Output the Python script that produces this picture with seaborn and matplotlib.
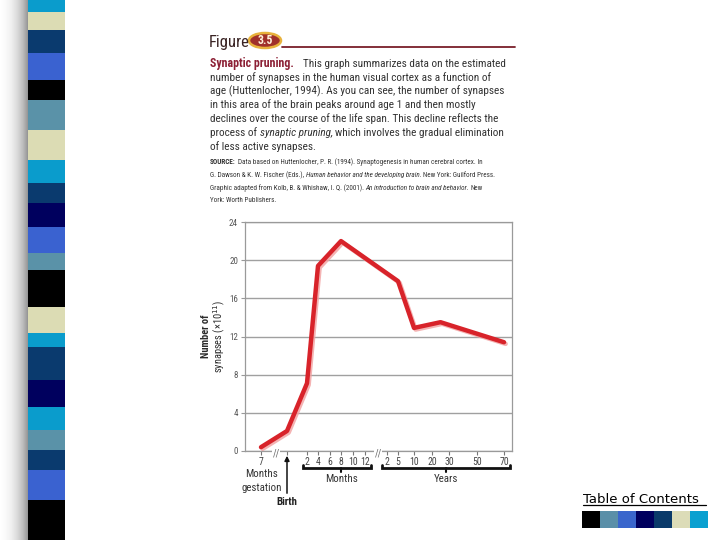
import numpy as np
import pandas as pd
import seaborn as sns
from matplotlib import pyplot as plt
from matplotlib.patches import Ellipse, Rectangle, FancyArrowPatch
from matplotlib.lines import Line2D
import matplotlib.patheffects as pe

# data: age in months relative to birth (gestation is negative)
ages_months = [-2, 0, 2, 4, 8, 60, 120, 300, 840]
synapses = [0.4, 2.1, 7.1, 19.4, 22.0, 17.8, 12.9, 13.5, 11.4]

month_ticks = [2, 4, 6, 8, 10, 12]
year_ticks = [2, 5, 10, 20, 30, 50, 70]
y_ticks = [0, 4, 8, 12, 16, 20, 24]

# slide decoration
stripe_colors = ["#0a9ccc", "#dcdcb4", "#0a3a6e", "#3a62d0", "#000000", "#5a92a8",
                 "#dcdcb4", "#0a9ccc", "#0a3a6e", "#00005e", "#3a62d0", "#5a92a8",
                 "#000000", "#dcdcb4", "#0a9ccc", "#0a3a6e", "#00005e", "#0a9ccc",
                 "#5a92a8", "#0a3a6e", "#3a62d0", "#000000"]
stripe_heights = [12, 18, 23, 27, 20, 30, 30, 23, 20, 24, 26, 17, 37, 26, 14, 33,
                  27, 23, 20, 20, 30, 40]
toc_colors = ["#000000", "#5a8fa8", "#3a66cc", "#00005e", "#0a3a6a", "#dcdcb8", "#0aa0d0"]

W, H = 720, 540
NARROW = ["Roboto Condensed", "DejaVu Sans"]
TXT = "#333333"

sns.set_theme(style="white")
plt.rcParams["font.family"] = NARROW

fig = plt.figure(figsize=(7.2, 5.4), dpi=100)
fig.patch.set_facecolor("white")
renderer = fig.canvas.get_renderer()


def fx(x):
    return x / W


def fy(y):
    return 1 - y / H


def ftext(x, y, s, **kw):
    return fig.text(fx(x), fy(y), s, **kw)


def fline(xs, ys, **kw):
    fig.add_artist(Line2D([fx(v) for v in xs], [fy(v) for v in ys],
                          transform=fig.transFigure, **kw))


def fit_size(s, width, base=8.0):
    # font size that makes a line as wide as in the reference
    t = fig.text(0, 0, s, fontsize=base)
    w = t.get_window_extent(renderer).width
    t.remove()
    return base * width / w


def runs(x, y, parts, size, gap):
    # one line made of differently styled pieces
    for txt, style in parts:
        kw = dict(fontsize=size, va="baseline", color=TXT)
        kw.update(style)
        t = ftext(x, y, txt, **kw)
        x = t.get_window_extent(renderer).x1 + gap


# ---- left stripe with its shadow
shadow = fig.add_axes([0, 0, fx(29), 1])
grad = np.linspace(0, 1, 60) ** 1.5
shadow.imshow(np.vstack([grad] * 2), cmap="Greys", vmin=0, vmax=1.8,
              aspect="auto", extent=[0, 1, 0, 1])
shadow.set_axis_off()

stripe = fig.add_axes([fx(28), 0, fx(37), 1])
bottoms = H - np.cumsum(stripe_heights)
stripe.bar([0] * len(stripe_heights), stripe_heights, bottom=bottoms,
           color=stripe_colors, width=1.0, linewidth=0)
stripe.set_xlim(-0.5, 0.5)
stripe.set_ylim(0, H)
stripe.set_axis_off()

# ---- figure header
ftext(209, 47, "Figure", fontsize=12, color="#3a2424", va="baseline")
fig.add_artist(Ellipse((fx(265), fy(40.5)), fx(32), 15 / H, transform=fig.transFigure,
                       facecolor="#a0302a", edgecolor="#e8b23c", lw=1.8))
ftext(265, 41, "3.5", fontsize=8.5, color="#fff2dc", weight="bold",
      ha="center", va="center")
fline([282, 515], [47, 47], color="#7a1f2a", lw=1.3)

maroon = "#8c2035"
cap_size = fit_size("number of synapses in the human visual cortex as a function of", 281)
runs(210, 67, [("Synaptic pruning.", {"color": maroon, "weight": "bold", "fontsize": cap_size * 1.06}),
               ("This graph summarizes data on the estimated", {})], cap_size, 9)
caption = [
    "number of synapses in the human visual cortex as a function of",
    "age (Huttenlocher, 1994). As you can see, the number of synapses",
    "in this area of the brain peaks around age 1 and then mostly",
    "declines over the course of the life span. This decline reflects the",
]
for i, line in enumerate(caption):
    ftext(210, 81 + 13.7 * i, line, fontsize=cap_size, color=TXT, va="baseline")
runs(210, 136, [("process of", {}), ("synaptic pruning,", {"style": "italic"}),
                ("which involves the gradual elimination", {})], cap_size, 2.5)
ftext(210, 150, "of less active synapses.", fontsize=cap_size, color=TXT, va="baseline")

src_size = fit_size("G. Dawson & K. W. Fischer (Eds.), Human behavior and the developing "
                    "brain. New York: Guilford Press.", 288, base=5.5)
runs(210, 164, [("SOURCE:", {"weight": "bold"}),
                ("Data based on Huttenlocher, P. R. (1994). Synaptogenesis in human "
                 "cerebral cortex. In", {})], src_size, 2)
runs(210, 177, [("G. Dawson & K. W. Fischer (Eds.),", {}),
                ("Human behavior and the developing brain.", {"style": "italic"}),
                ("New York: Guilford Press.", {})], src_size, 1.5)
runs(210, 190, [("Graphic adapted from Kolb, B. & Whishaw, I. Q. (2001).", {}),
                ("An introduction to brain and behavior.", {"style": "italic"}),
                ("New", {})], src_size, 1.5)
ftext(210, 202, "York: Worth Publishers.", fontsize=src_size, color=TXT, va="baseline")

# ---- the chart, on a piecewise x scale (ages in months)
scale_ages = [-3.25, -2, 0, 2, 4, 6, 8, 10, 12, 24, 60, 120, 240, 360, 600, 840, 885]
scale_px = [245, 261, 287, 307, 318, 330, 341, 353, 365, 387, 398, 414, 432, 449, 477, 504, 512]


def fwd(a):
    return np.interp(a, scale_ages, scale_px)


def inv(p):
    return np.interp(p, scale_px, scale_ages)


ax = fig.add_axes([fx(245), fy(451), fx(512) - fx(245), fy(222) - fy(451)])
ax.set_xscale("function", functions=(fwd, inv))

df = pd.DataFrame({"age": ages_months, "synapses": synapses})
sns.lineplot(data=df, x="age", y="synapses", ax=ax, sort=False, color="#d8232a",
             lw=3.2, solid_capstyle="round",
             path_effects=[pe.SimpleLineShadow(offset=(1.2, -1.2), shadow_color="#f2a0a0",
                                               alpha=0.8), pe.Normal()])

ax.set_xlim(scale_ages[0], scale_ages[-1])
ax.set_ylim(0, 24)
xt = [-2, 0] + month_ticks + [y * 12 for y in year_ticks]
xl = ["7", ""] + [str(m) for m in month_ticks] + [str(y) for y in year_ticks]
ax.set_xticks(xt)
ax.set_xticklabels(xl)
ax.xaxis.set_minor_locator(plt.NullLocator())
ax.set_yticks(y_ticks)
ax.set_xlabel("")
ax.set_ylabel("")
ax.tick_params(axis="x", bottom=True, direction="out", length=3, width=0.8,
               color="#777777", labelsize=7, labelcolor="#444444", pad=1.5)
ax.tick_params(axis="y", left=True, direction="out", length=3, width=0.8,
               color="#999999", labelsize=6.5, labelcolor="#555555", pad=2)
ax.yaxis.grid(True, color="#a0a0a0", lw=1.0)
for side in ["left", "right", "top", "bottom"]:
    ax.spines[side].set_color("#9a9a9a")
    ax.spines[side].set_linewidth(0.9)

# axis breaks
for p in [276, 378]:
    ax.text(inv(p), -0.012, "//", transform=ax.get_xaxis_transform(), ha="center",
            va="center", fontsize=7, color="#666666", clip_on=False,
            bbox=dict(facecolor="white", edgecolor="none", pad=0.3))

# y label
ftext(206, 336, "Number of", rotation=90, fontsize=7.5, color="#2b2b2b",
      ha="center", va="center", weight="bold")
ftext(219, 336, "synapses (×10$^{11}$)", rotation=90, fontsize=7.5, color="#2b2b2b",
      ha="center", va="center")

# brackets and labels under the axis
for x0, x1, xm in [(303, 371, 341), (382, 510, 446)]:
    fline([x0, x0, x1, x1], [464.5, 468, 468, 464.5], color="#111111", lw=2.0,
          solid_joinstyle="miter")
    fline([xm, xm], [468, 471.5], color="#111111", lw=1.5)
lab = dict(fontsize=7.8, color="#333333", ha="center", va="baseline")
ftext(341, 482, "Months", **lab)
ftext(446, 482, "Years", **lab)
ftext(262, 477, "Months", **lab)
ftext(262, 491, "gestation", **lab)
ftext(287, 505, "Birth", fontsize=7.8, color="#222222", ha="center", va="baseline",
      weight="bold")
fig.add_artist(FancyArrowPatch((fx(287), fy(496)), (fx(287), fy(453)),
                               transform=fig.transFigure, arrowstyle="-|>",
                               mutation_scale=7, lw=1.1, color="#111111"))

# ---- table of contents link
ftext(583, 503, "Table of Contents", fontsize=9.5, color="#000000", va="baseline",
      family="DejaVu Sans")
fline([583, 706], [505, 505], color="#000000", lw=0.9)
for i, c in enumerate(toc_colors):
    fig.add_artist(Rectangle((fx(582 + 18 * i), fy(528)), fx(18), 17 / H,
                             transform=fig.transFigure, facecolor=c, edgecolor="none"))

plt.savefig("out.png", dpi=100)
